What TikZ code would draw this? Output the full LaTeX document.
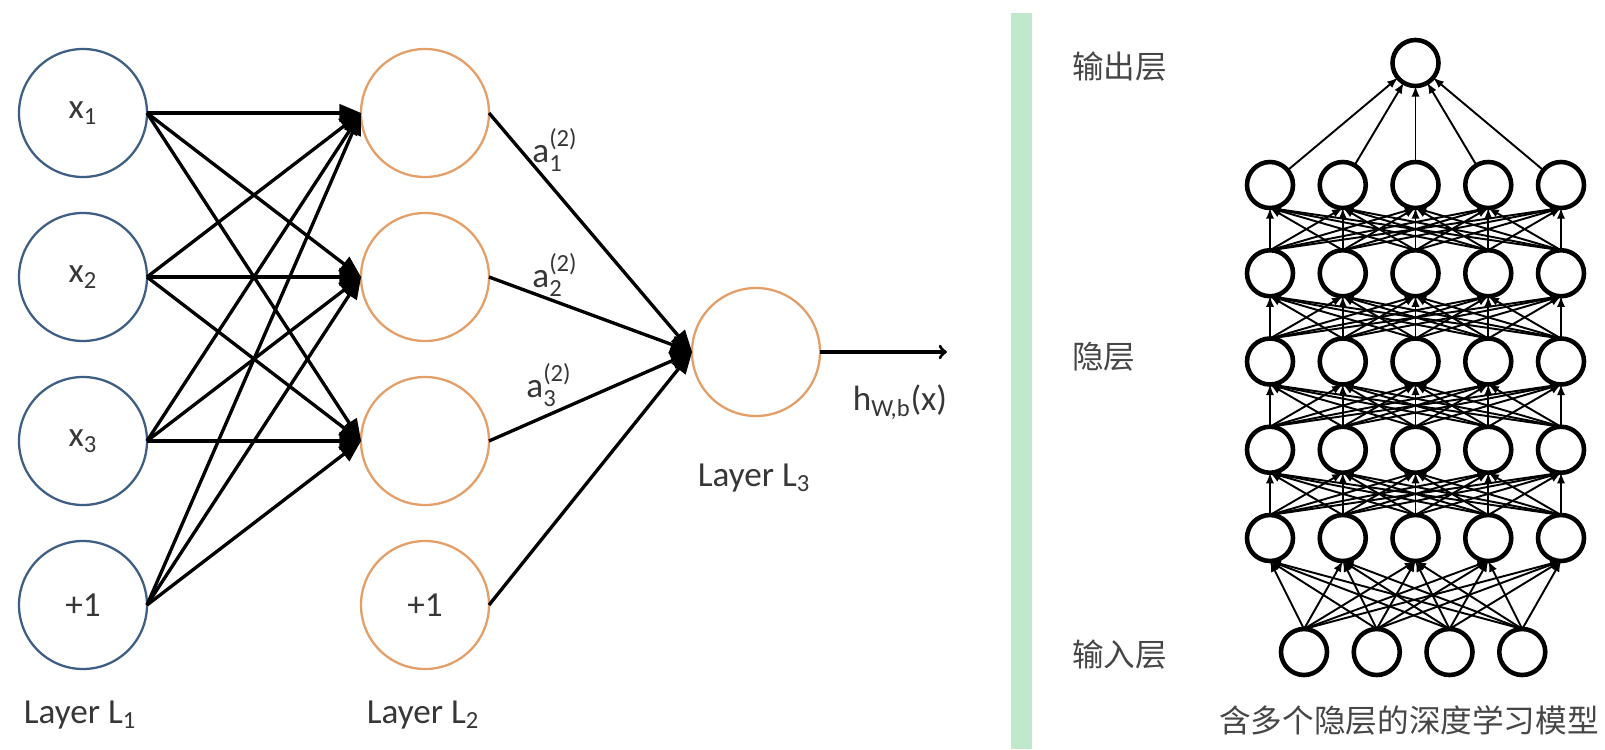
\documentclass[tikz,border=0pt]{standalone}
\usepackage{fontspec}
\setmainfont{Carlito}
\newfontfamily\cjk{Noto Sans CJK SC}
\usepackage[usenames,dvipsnames]{xcolor}
\usepackage{amsmath}
\usepackage{tikz}
\usetikzlibrary{arrows,shapes}
\usepackage{tkz-graph}

\definecolor{inblue}{RGB}{62,94,132}
\definecolor{hidorange}{RGB}{228,158,104}
\definecolor{labgray}{RGB}{55,55,55}
\definecolor{cjkgray}{RGB}{70,70,70}
\definecolor{barmint}{RGB}{192,232,202}

\tikzset{
    neuron/.style={circle,draw,line width=1.3pt,fill=white,minimum size=2.56cm,
        inner sep=0pt,text=labgray,font=\fontsize{20}{24}\selectfont},
    deepneuron/.style={circle,draw=black,line width=2.6pt,fill=white,
        minimum size=0.92cm,inner sep=0pt},
    lab/.style={text=labgray,inner sep=0pt,font=\fontsize{20}{24}\selectfont},
    cjklab/.style={text=cjkgray,inner sep=0pt,font=\cjk\fontsize{18}{22}\selectfont},
    outarrow/.style={->,line width=1.9pt,black}
}

\begin{document}
\begin{tikzpicture}
    \useasboundingbox (0,0) rectangle (32.1,-14.98);
    \fill[white] (0,0) rectangle (32.1,-14.98);
    \GraphInit[vstyle=Normal]
    \tikzset{LabelStyle/.style={draw=none,fill=none,inner sep=0pt}}
    % layer L1
    \tikzset{VertexStyle/.style={neuron,draw=inblue}}
    \SetGraphUnit{3.28}
    \Vertex[x=1.66,y=-2.26,L={x\textsubscript{1}}]{x1}
    \SO[L={x\textsubscript{2}}](x1){x2}
    \SO[L={x\textsubscript{3}}](x2){x3}
    \SO[L={+1}](x3){xb}
    % layer L2
    \tikzset{VertexStyle/.style={neuron,draw=hidorange}}
    \EA[unit=6.84,NoLabel](x1){a1}
    \SO[NoLabel](a1){a2}
    \SO[NoLabel](a2){a3}
    \SO[L={+1}](a3){ab}
    % layer L3
    \Vertex[x=15.12,y=-7.04,NoLabel]{hy}

    \tikzset{EdgeStyle/.style={-triangle 45,line width=1.9pt,black}}
    \Edge(x1.east)(a1.west)
    \Edge(x1.east)(a2.west)
    \Edge(x1.east)(a3.west)
    \Edge(x2.east)(a1.west)
    \Edge(x2.east)(a2.west)
    \Edge(x2.east)(a3.west)
    \Edge(x3.east)(a1.west)
    \Edge(x3.east)(a2.west)
    \Edge(x3.east)(a3.west)
    \Edge(xb.east)(a1.west)
    \Edge(xb.east)(a2.west)
    \Edge(xb.east)(a3.west)
    \Edge(a1.east)(hy.west)
    \Edge(a2.east)(hy.west)
    \Edge(a3.east)(hy.west)
    \Edge(ab.east)(hy.west)
    \coordinate (hend) at (18.94,-7.04);
    \draw[outarrow] (hy) -- (hend);

    \node[lab] (la1) at (11.10,-3.00) {$\text{a}^{\text{(2)}}_{\text{1}}$};
    \node[lab] (la2) at (11.10,-5.50) {$\text{a}^{\text{(2)}}_{\text{2}}$};
    \node[lab] (la3) at (10.98,-7.70) {$\text{a}^{\text{(2)}}_{\text{3}}$};
    \node[lab] (lh) at (18.00,-8.04) {h\textsubscript{W,b}(x)};
    \node[lab] (lay1) at (1.60,-14.30) {Layer L\textsubscript{1}};
    \node[lab] (lay2) at (8.46,-14.30) {Layer L\textsubscript{2}};
    \node[lab] (lay3) at (15.08,-9.56) {Layer L\textsubscript{3}};

    % separator
    \fill[barmint] (20.22,-0.26) rectangle (20.64,-14.98);

    % deep model
    \node[cjklab,anchor=west] (tout) at (21.44,-1.34) {输出层};
    \node[cjklab,anchor=west] (thid) at (21.44,-7.14) {隐层};
    \node[cjklab,anchor=west] (tin) at (21.44,-13.10) {输入层};
    \node[cjklab] (tcap) at (28.18,-14.40) {含多个隐层的深度学习模型};

    \tikzset{VertexStyle/.style={deepneuron}}
    \Vertex[x=28.31,y=-1.26,NoLabel]{dout}
    \foreach \r/\yy in {1/-3.70,2/-5.465,3/-7.23,4/-8.995,5/-10.76}{
        \foreach \c in {1,...,5}{
            \pgfmathsetmacro\xx{25.40+1.455*(\c-1)}
            \Vertex[x=\xx,y=\yy,NoLabel]{dh\r\c}}}
    \foreach \c in {1,...,4}{
        \pgfmathsetmacro\xx{26.08+1.455*(\c-1)}
        \Vertex[x=\xx,y=-13.04,NoLabel]{di\c}}

    \tikzset{EdgeStyle/.style={-latex,line width=1.1pt,black}}
    \foreach \c in {1,...,5}{\Edge(dh1\c)(dout)}
    \foreach \r in {1,...,4}{
        \pgfmathtruncatemacro\s{\r+1}
        \foreach \i in {1,...,5}{
            \foreach \j in {1,...,5}{\Edge(dh\s\i.north)(dh\r\j.south)}}}
    \foreach \i in {1,...,4}{
        \foreach \j in {1,...,5}{\Edge(di\i.north)(dh5\j.south)}}
\end{tikzpicture}
\end{document}
